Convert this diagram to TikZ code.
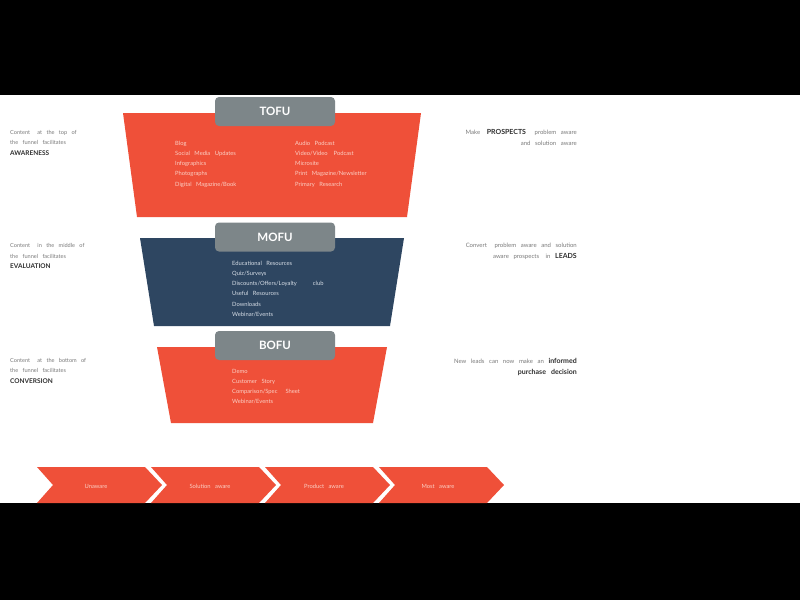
\documentclass[tikz,border=0pt]{standalone}
\usepackage{fontspec}
\setmainfont{Lato}[WordSpace=3]
\definecolor{funnelred}{HTML}{EF5039}
\definecolor{funnelnavy}{HTML}{2E4661}
\definecolor{tabgrey}{HTML}{7D8689}
\definecolor{sidegrey}{HTML}{7A7A7A}
\definecolor{sidedark}{HTML}{2F2F2F}
\definecolor{redtext}{HTML}{FBCFC4}
\definecolor{navytext}{HTML}{D6DDE6}

\begin{document}
\begin{tikzpicture}[x=1pt, y=-1pt,
  tab/.style={fill=tabgrey, rounded corners=4pt, minimum width=120pt, minimum height=29pt, inner sep=0pt, text=white, font=\fontsize{11.5}{12}\selectfont\bfseries},
  items/.style={anchor=base west, align=left, inner sep=0pt, font=\fontsize{5.8}{10.3}\selectfont},
  lside/.style={anchor=base west, align=left, inner sep=0pt, text=sidegrey, font=\fontsize{5.6}{10.5}\selectfont},
  rside/.style={anchor=base east, align=right, inner sep=0pt, text=sidegrey, font=\fontsize{6}{11.2}\selectfont},
  stagetxt/.style={text=redtext, inner sep=0pt, font=\fontsize{5.8}{6}\selectfont}
]
% page with black bands
\fill[black] (0,0) rectangle (800,600);
\useasboundingbox (0,0) rectangle (800,600);
\fill[white] (0,95) rectangle (800,503);

% funnel levels
\fill[funnelred] (123,113) -- (421,113) -- (407,217) -- (137,217) -- cycle;
\fill[funnelnavy] (140,238) -- (404,238) -- (390,326) -- (154,326) -- cycle;
\fill[funnelred] (157,347) -- (387,347) -- (373,423) -- (171,423) -- cycle;

\node[tab] (tofu) at (275,111.5) {TOFU};
\node[tab] (mofu) at (275,237) {MOFU};
\node[tab] (bofu) at (275,345.5) {BOFU};

% content lists (anchored at the last line)
\node[items, text=redtext] (tofuleft) at (175,186.2) {Blog\\Social Media Updates\\Infographics\\Photographs\\Digital Magazine/Book};
\node[items, text=redtext] (tofuright) at (295,186.2) {Audio Podcast\\Video/Video\hspace{6pt}Podcast\\Microsite\\Print Magazine/Newsletter\\Primary Research};
\node[items, text=navytext] (mofulist) at (232,316.5) {Educational Resources\\Quiz/Surveys\\Discounts/Offers/Loyalty\hspace{16pt}club\\Useful Resources\\Downloads\\Webinar/Events};
\node[items, text=redtext] (bofulist) at (232,403.9) {Demo\\Customer Story\\Comparison/Spec\hspace{8pt}Sheet\\Webinar/Events};

% left notes
\node[lside] (awareness) at (10,155) {Content\hspace{3pt} at the top of\\the funnel facilitates\\{\fontsize{6.5}{10.5}\selectfont\bfseries\color{sidedark}AWARENESS}};
\node[lside] (evaluation) at (10,268.5) {Content\hspace{3pt} in the middle of\\the funnel facilitates\\{\fontsize{6.5}{10.5}\selectfont\bfseries\color{sidedark}EVALUATION}};
\node[lside] (conversion) at (10,383) {Content\hspace{3pt} at the bottom of\\the funnel facilitates\\{\fontsize{6.5}{10.5}\selectfont\bfseries\color{sidedark}CONVERSION}};

% right notes
\node[rside] (prospects) at (577,145.5) {Make\hspace{2pt} {\fontsize{7}{11.2}\selectfont\bfseries\color{sidedark}PROSPECTS}\hspace{4pt} problem aware\\and solution aware};
\node[rside] (leads) at (577,258.5) {Convert\hspace{3pt} problem aware and solution\\aware prospects\hspace{2pt} in {\fontsize{7}{11.2}\selectfont\bfseries\color{sidedark}LEADS}};
\node[rside] (informed) at (577,374.5) {New leads can now make an {\fontsize{7}{11.2}\selectfont\bfseries\color{sidedark}informed}\\{\fontsize{7}{11.2}\selectfont\bfseries\color{sidedark}purchase decision}};

% awareness stages
\foreach \x/\lbl/\nm in {37/Unaware/unaware, 151/Solution aware/solution, 265/Product aware/product, 379/Most aware/most}{
  \fill[funnelred] (\x,467) -- (\x+108,467) -- (\x+125,485) -- (\x+108,503) -- (\x,503) -- (\x+16,485) -- cycle;
  \node[stagetxt] (\nm) at (\x+59,486) {\lbl};
}
\end{tikzpicture}
\end{document}
